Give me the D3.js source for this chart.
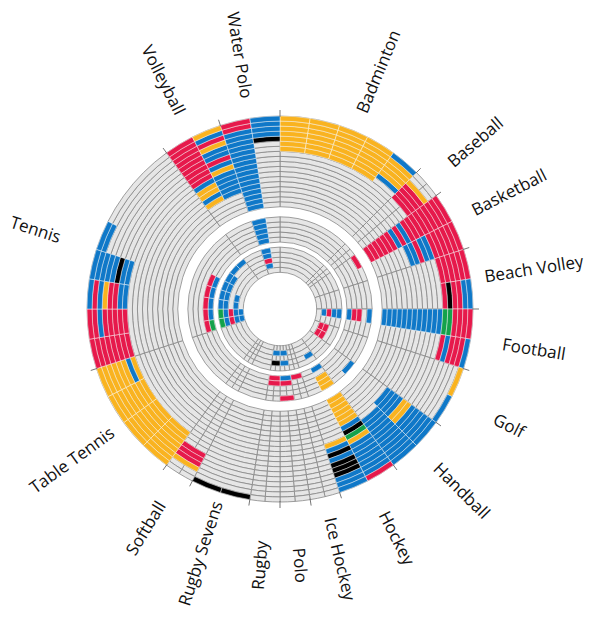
<!DOCTYPE html>
<html><head><meta charset="utf-8">
<script src="https://cdn.jsdelivr.net/npm/d3@7"></script>
<style>body{margin:0;background:#fff}svg{display:block}</style>
</head><body><svg id="c" width="600" height="619"></svg>
<script>
// ---- data ----
const sports = ["Badminton","Baseball","Basketball","Beach Volley","Football","Golf","Handball","Hockey","Ice Hockey","Polo","Rugby","Rugby Sevens","Softball","Table Tennis","Tennis","Volleyball","Water Polo"];
const eventCounts = [5,1,2,2,2,2,2,2,1,1,1,2,1,4,8,2,2];
const years = d3.range(1896, 2017, 4);
const cancelled = [1916, 1940, 1944];
// continent codes: F Africa, M Americas, S Asia, E Europe, O Oceania
const continentColors = {F:"#14a24b", M:"#e6194b", S:"#f9b320", E:"#0f78c8", O:"#000000"};
// gold-medal continents per Games (one letter per event)
const badminton = [[1992,"SSSS"],[1996,"SSSSE"],[2000,"SSSSS"],[2004,"SSSSS"],[2008,"SSSSS"],[2012,"SSSSS"],[2016,"SSSSE"]];
const baseball = [[1992,"M"],[1996,"M"],[2000,"M"],[2004,"M"],[2008,"S"]];
const basketball = [[1936,"M"],[1948,"M"],[1952,"M"],[1956,"M"],[1960,"M"],[1964,"M"],[1968,"M"],[1972,"E"],[1976,"ME"],[1980,"EE"],[1984,"MM"],[1988,"ME"],[1992,"ME"],[1996,"MM"],[2000,"MM"],[2004,"MM"],[2008,"MM"],[2012,"MM"],[2016,"MM"]];
const beachVolley = [[1996,"MM"],[2000,"MO"],[2004,"MM"],[2008,"MM"],[2012,"ME"],[2016,"ME"]];
const football = [[1900,"E"],[1904,"M"],[1908,"E"],[1912,"E"],[1920,"E"],[1924,"M"],[1928,"M"],[1936,"E"],[1948,"E"],[1952,"E"],[1956,"E"],[1960,"E"],[1964,"E"],[1968,"E"],[1972,"E"],[1976,"E"],[1980,"E"],[1984,"E"],[1988,"E"],[1992,"E"],[1996,"FM"],[2000,"FE"],[2004,"MM"],[2008,"MM"],[2012,"MM"],[2016,"ME"]];
const golf = [[1900,"MM"],[1904,"MM"],[2016,"SE"]];
const handball = [[1936,"E"],[1972,"E"],[1976,"EE"],[1980,"EE"],[1984,"EE"],[1988,"SE"],[1992,"SE"],[1996,"EE"],[2000,"EE"],[2004,"EE"],[2008,"EE"],[2012,"EE"],[2016,"EE"]];
const hockey = [[1908,"E"],[1920,"E"],[1928,"S"],[1932,"S"],[1936,"S"],[1948,"S"],[1952,"S"],[1956,"S"],[1960,"S"],[1964,"S"],[1968,"S"],[1972,"E"],[1976,"O"],[1980,"FS"],[1984,"SE"],[1988,"EO"],[1992,"EE"],[1996,"EO"],[2000,"EO"],[2004,"EO"],[2008,"EE"],[2012,"EE"],[2016,"ME"]];
const iceHockey = [[1920,"M"]];
const polo = [[1900,"E"],[1908,"E"],[1920,"E"],[1924,"M"],[1936,"M"]];
const rugby = [[1900,"E"],[1908,"O"],[1920,"M"],[1924,"M"]];
const rugbySevens = [[2016,"OO"]];
const softball = [[1996,"M"],[2000,"M"],[2004,"M"],[2008,"S"]];
const tableTennis = [[1988,"SSSS"],[1992,"SSSE"],[1996,"SSSS"],[2000,"SSSS"],[2004,"SSSS"],[2008,"SSSS"],[2012,"SSSS"],[2016,"SSSS"]];
const tennis = [[1896,"EE"],[1900,"EEEE"],[1904,"MM"],[1908,"EEEEEE"],[1912,"FFEEEEEE"],[1920,"FEEEE"],[1924,"MMMMM"],[1988,"MMEE"],[1992,"MMEE"],[1996,"MMMO"],[2000,"MMME"],[2004,"MMSE"],[2008,"MEEE"],[2012,"MMMEE"],[2016,"MMEEE"]];
const volleyball = [[1964,"SE"],[1968,"EE"],[1972,"SE"],[1976,"SE"],[1980,"EE"],[1984,"MS"],[1988,"ME"],[1992,"MM"],[1996,"ME"],[2000,"ME"],[2004,"MS"],[2008,"MM"],[2012,"ME"],[2016,"MS"]];
const waterPolo = [[1900,"E"],[1904,"M"],[1908,"E"],[1912,"E"],[1920,"E"],[1924,"E"],[1928,"E"],[1932,"E"],[1936,"E"],[1948,"E"],[1952,"E"],[1956,"E"],[1960,"E"],[1964,"E"],[1968,"E"],[1972,"E"],[1976,"E"],[1980,"E"],[1984,"E"],[1988,"E"],[1992,"E"],[1996,"E"],[2000,"EO"],[2004,"EE"],[2008,"EE"],[2012,"ME"],[2016,"ME"]];
const medals = [badminton, baseball, basketball, beachVolley, football, golf, handball, hockey, iceHockey, polo, rugby, rugbySevens, softball, tableTennis, tennis, volleyball, waterPolo];

// ---- layout ----
const cx = 280, cy = 309;
const innerR = 36.7, outerR = 193;
const totalEvents = d3.sum(eventCounts);
const ang = d3.scaleLinear().domain([0, totalEvents]).range([0, 2 * Math.PI]);
const rad = d3.scaleLinear().domain([0, years.length]).range([innerR, outerR]);
const yearIndex = d3.scaleOrdinal().domain(years).range(d3.range(years.length));

const starts = [];
let acc = 0;
eventCounts.forEach(n => { starts.push(acc); acc += n; });

const svg = d3.select("#c");
const g = svg.append("g").attr("transform", `translate(${cx},${cy})`);
const arc = d3.arc();

// grey background per sport per Games (single-event sports split in two halves)
const heldYears = years.filter(y => !cancelled.includes(y));
const bg = [];
sports.forEach((s, si) => {
  const parts = eventCounts[si] === 1 ? [[0, 0.5], [0.5, 1]] : [[0, eventCounts[si]]];
  parts.forEach(([p0, p1]) => heldYears.forEach(yr => bg.push({si, yr, p0, p1})));
});
g.append("g").selectAll("path").data(bg).join("path")
  .attr("d", d => arc({innerRadius: rad(yearIndex(d.yr)), outerRadius: rad(yearIndex(d.yr) + 1),
    startAngle: ang(starts[d.si] + d.p0), endAngle: ang(starts[d.si] + d.p1)}))
  .attr("fill", "#e6e6e6").attr("stroke", "#888").attr("stroke-width", 0.8);

// coloured cells
const cells = [];
medals.forEach((list, si) => {
  list.forEach(([yr, codes]) => {
    codes.split("").forEach((c, k) => cells.push({si, yr, k, c}));
  });
});
g.append("g").selectAll("path").data(cells).join("path")
  .attr("d", d => arc({innerRadius: rad(yearIndex(d.yr)), outerRadius: rad(yearIndex(d.yr) + 1),
    startAngle: ang(starts[d.si] + d.k), endAngle: ang(starts[d.si] + d.k + 1)}))
  .attr("fill", d => continentColors[d.c])
  .attr("stroke", "#fff").attr("stroke-opacity", 0.75).attr("stroke-width", 0.6);

// sport boundary ticks
g.append("g").selectAll("line").data(starts).join("line")
  .attr("x1", d => Math.sin(ang(d)) * (outerR - 1)).attr("y1", d => -Math.cos(ang(d)) * (outerR - 1))
  .attr("x2", d => Math.sin(ang(d)) * (outerR + 6)).attr("y2", d => -Math.cos(ang(d)) * (outerR + 6))
  .attr("stroke", "#666").attr("stroke-width", 0.9);

// labels, centred on a circle
const labelR = 257;
const midDeg = i => ang(starts[i] + eventCounts[i] / 2) * 180 / Math.PI;
g.append("g").selectAll("text").data(sports).join("text")
  .attr("transform", (s, i) => {
    const deg = midDeg(i);
    return deg < 180 ? `rotate(${deg - 90}) translate(${labelR},0)` : `rotate(${deg - 90}) translate(${labelR},0) rotate(180)`;
  })
  .attr("text-anchor", "middle")
  .attr("dy", "0.35em")
  .style("font-family", "'Open Sans', 'Noto Sans', sans-serif").style("font-size", "17px").attr("fill", "#111")
  .text(s => s);
</script></body></html>
